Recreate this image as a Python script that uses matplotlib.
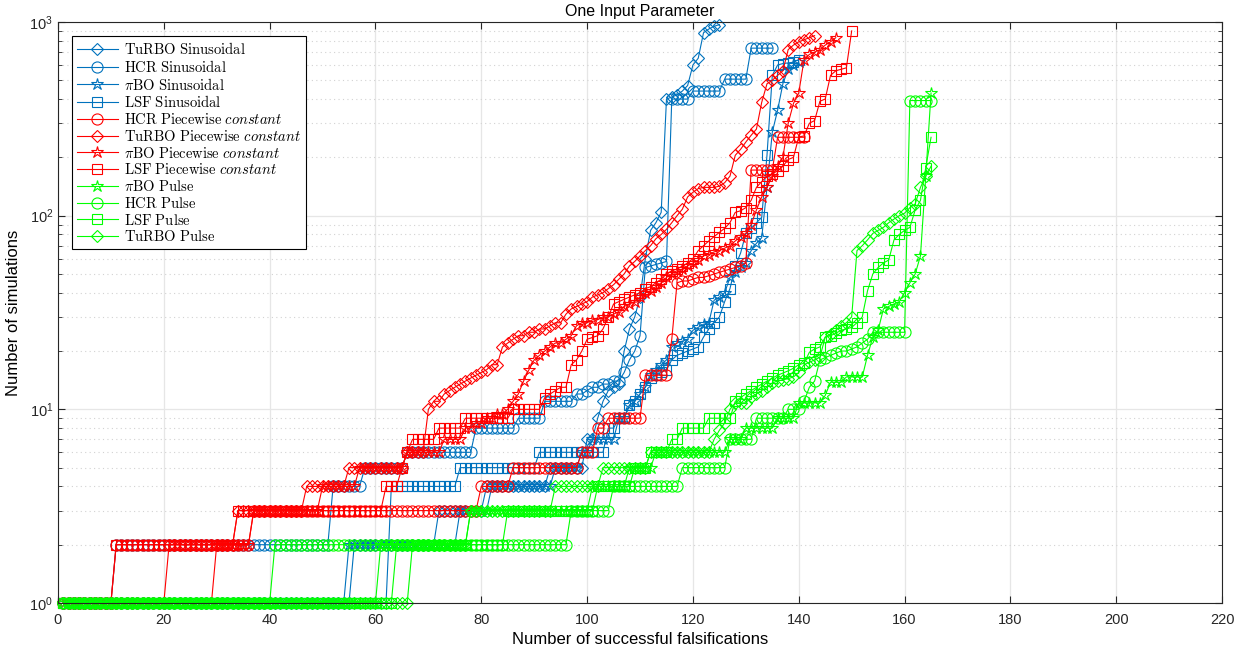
import numpy as np
import matplotlib
matplotlib.use("Agg")
import matplotlib.pyplot as plt
from matplotlib.ticker import LogLocator, NullFormatter

plt.rcParams['font.family'] = ['Liberation Sans', 'DejaVu Sans']
plt.rcParams['mathtext.fontset'] = 'cm'

# ---------------- data (run-length: values, counts) ----------------
turbo_sin_v = [1, 2, 3, 4, 5, 7, 9, 11, 12.5, 13, 13.5, 20, 26, 30, 38, 60, 84, 92, 104,
               400, 410, 420, 440, 470, 600, 650, 880, 920, 950, 970]
turbo_sin_c = [55, 16, 9, 12, 7, 2, 1] + [1] * 23

hcr_sin_v = [1, 2, 4, 5, 6, 8, 9, 11, 12, 12.5, 13, 13.5, 14, 15.5, 18, 20, 24,
             54, 55, 56, 57, 58, 400, 440, 507, 733]
hcr_sin_c = [10, 41, 6, 8, 13, 8, 5, 6, 2, 1, 2, 2, 2, 1, 1, 1, 1,
             1, 1, 1, 1, 1, 4, 6, 5, 5]

pibo_sin_v = [1, 2, 3, 4, 5, 6, 7, 9, 10.5, 11, 12, 13, 15, 16, 17, 18, 21, 22, 22.5, 23,
              25.6, 26.5, 27.5, 28, 36.6, 38, 40, 48, 51, 54, 57, 66, 72, 77, 140, 270,
              350, 480, 570, 600, 620]
pibo_sin_c = [54, 21, 6, 12, 5, 2, 5, 2] + [1] * 33

lsf_sin_v = [1, 4, 5, 6, 8, 9, 10.5, 11, 12, 13, 14.5, 15, 15.5, 16, 18, 19, 19.5, 20,
             20.5, 21, 23.6, 26, 28, 30, 36, 42, 55, 64, 81, 86, 92, 98, 206, 530, 600,
             610, 615, 620, 640]
lsf_sin_c = [62, 13, 15, 13, 2, 2] + [1] * 33

hcr_pc_v = [1, 2, 3, 4, 5, 6, 8, 9, 15, 23, 45, 46, 47, 48, 49, 50, 51, 52, 53, 54, 55,
            57, 172, 254]
hcr_pc_c = [10, 26, 43, 6, 13, 3, 2, 7, 5, 1, 1, 2, 1, 2, 1, 1, 1, 1, 1, 1, 1, 1, 5, 6]

turbo_pc_v = [1, 2, 3, 4, 5, 6, 10, 11, 12, 12.5, 13, 13.5, 14, 14.5, 15, 15.5, 16, 17,
              21, 22, 23, 24, 25, 26, 27, 28, 31, 33, 34, 35, 36, 38, 39, 40, 42, 44, 47,
              50, 55, 58, 62, 66, 70, 76, 80, 85, 92, 100, 108, 125, 132, 138, 140, 142,
              148, 160, 205, 220, 240, 260, 280, 385, 480, 500, 530, 560, 720, 760, 790,
              810, 830, 850]
turbo_pc_c = ([20, 13, 13, 8, 11, 4, 1, 2, 1, 1, 1, 1, 1, 1, 1, 1, 1, 2,
               1, 1, 1, 2, 2, 2, 1, 2] + [1] * 26 + [3] + [1] * 19)

pibo_pc_v = [1, 2, 3, 4, 5, 6, 7, 8, 8.5, 9, 9.5, 10,
             11, 12, 14, 16, 18, 19, 20, 21, 22, 22, 23, 24, 27, 28, 28, 29, 29, 30, 30,
             31, 32, 34, 35, 36, 38, 40, 41, 43, 45, 48, 50, 52, 53, 55, 57, 59, 62, 63,
             65, 66, 68, 70, 74, 78, 81, 90, 107, 125, 140, 160, 180, 200, 300, 380, 430,
             640, 680, 700, 720, 760, 790, 830]
pibo_pc_c = [29, 7, 13, 7, 9, 7, 4, 2, 2, 2, 2, 1] + [1] * 62

lsf_pc_v = [1, 2, 3, 4, 5, 6, 7, 8, 9, 10,
            11.5, 12, 12.5, 13, 13, 17, 18, 20, 23, 23.5, 24, 26, 30, 35, 36, 37, 38, 39,
            40, 42, 43, 45, 47, 50, 52, 53, 55, 57, 60, 66, 70, 74, 78, 82, 86, 92, 104,
            106, 110, 120, 140, 150, 160, 165, 170, 180, 195, 200, 255, 258, 300, 310,
            390, 400, 530, 560, 570, 580, 900]
lsf_pc_c = [10, 23, 28, 3, 1, 1, 5, 5, 9, 6] + [1] * 59

pibo_p_v = [1, 2, 3, 4, 5, 6, 7, 8, 9, 10.8, 11.8, 13.8, 14.7,
            19, 23.6, 25.6, 33, 34, 35, 36, 40, 45, 50, 62, 160, 430]
pibo_p_c = [60, 17, 23, 7, 5, 14, 3, 6, 4, 5, 1, 3, 4] + [1] * 13

hcr_p_v = [1, 2, 3, 4, 5, 7, 9, 10, 11, 13, 14, 18, 18.5, 19, 19.5, 20, 20, 20.5, 21, 22,
           23, 25, 393]
hcr_p_c = [40, 56, 8, 13, 9, 5, 6, 3] + [1] * 13 + [7, 5]

lsf_p_v = [1, 2, 3, 4, 5, 6, 7, 8, 9,
           11, 11.5, 12, 12.5, 13, 13.5, 14, 14.5, 15, 15.4, 15.8, 16.3, 17, 17.3, 19.7,
           20.5, 21, 23.6, 24, 24.7, 25.6, 26, 26.5, 28, 30, 41, 50, 54, 57, 59, 75, 80,
           84, 87, 107, 120, 177, 254]
lsf_p_c = [63, 21, 17, 7, 3, 4, 2, 5, 5] + [1] * 38

turbo_p_v = [1, 2, 3, 4, 5, 6, 7, 7.8, 8.5, 10, 10.8,
             11.6, 12, 12.5, 13, 13.7, 14, 14.2, 14.4, 14.7, 15.5, 17, 17.5, 18, 18.6,
             23.6, 24.5, 25.6, 27, 28, 30, 66, 70, 75, 81, 84, 87, 92, 96, 100, 103, 110,
             115, 140, 160, 180]
turbo_p_c = [66, 11, 16, 9, 9, 12, 1, 1, 1, 1, 3] + [1] * 35

labels = [r'$\mathrm{TuRBO\ Sinusoidal}$', r'$\mathrm{HCR\ Sinusoidal}$',
          r'$\pi\mathrm{BO\ Sinusoidal}$', r'$\mathrm{LSF\ Sinusoidal}$',
          r'$\mathrm{HCR\ Piecewise}\ constant$', r'$\mathrm{TuRBO\ Piecewise}\ constant$',
          r'$\pi\mathrm{BO\ Piecewise}\ constant$', r'$\mathrm{LSF\ Piecewise}\ constant$',
          r'$\pi\mathrm{BO\ Pulse}$', r'$\mathrm{HCR\ Pulse}$',
          r'$\mathrm{LSF\ Pulse}$', r'$\mathrm{TuRBO\ Pulse}$']

series = [(turbo_sin_v, turbo_sin_c), (hcr_sin_v, hcr_sin_c), (pibo_sin_v, pibo_sin_c),
          (lsf_sin_v, lsf_sin_c), (hcr_pc_v, hcr_pc_c), (turbo_pc_v, turbo_pc_c),
          (pibo_pc_v, pibo_pc_c), (lsf_pc_v, lsf_pc_c), (pibo_p_v, pibo_p_c),
          (hcr_p_v, hcr_p_c), (lsf_p_v, lsf_p_c), (turbo_p_v, turbo_p_c)]

BLUE, RED, GREEN = '#0072BD', '#FF0000', '#00FF00'
colors = [BLUE] * 4 + [RED] * 4 + [GREEN] * 4
markers = ['D', 'o', '*', 's', 'o', 'D', '*', 's', '*', 'o', 's', 'D']
msizes = {'D': 6.5, 'o': 8, '*': 9, 's': 7.5}

fig = plt.figure(figsize=(12.47, 6.57), dpi=100)
ax = fig.add_axes([0.0465, 0.0822, 0.9335, 0.8843])

for (v, c), lab, col, mk in zip(series, labels, colors, markers):
    y = np.repeat(np.array(v, dtype=float), c)
    x = np.arange(1, len(y) + 1)
    ax.plot(x, y, color=col, marker=mk, ms=msizes[mk], mfc='none', mec=col,
            mew=0.8, lw=0.8, label=lab, clip_on=False)

ax.set_yscale('log')
ax.set_xlim(0, 220)
ax.set_ylim(1, 1000)
ax.set_xticks(np.arange(0, 221, 20))
ax.yaxis.set_major_locator(LogLocator(base=10, numticks=10))
ax.yaxis.set_minor_locator(LogLocator(base=10, subs=np.arange(2, 10), numticks=20))
ax.yaxis.set_minor_formatter(NullFormatter())

ax.grid(True, which='major', color='#e6e6e6', lw=0.9, ls='-')
ax.grid(True, which='minor', axis='y', color='#d2d2d2', lw=0.8, ls=(0, (1, 3)))
ax.set_axisbelow(True)

ax.tick_params(which='both', direction='in', top=True, right=True, labelsize=10.5,
               colors='#262626')
ax.tick_params(which='major', length=5)
ax.tick_params(which='minor', length=3)
ax.tick_params(axis='x', pad=7)
for s in ax.spines.values():
    s.set_color('#262626')
    s.set_linewidth(0.8)

ax.set_title('One Input Parameter', fontsize=11.5, pad=4)
ax.set_xlabel('Number of successful falsifications', fontsize=12, labelpad=4)
ax.set_ylabel('Number of simulations', fontsize=12, labelpad=6)

leg = ax.legend(loc='upper left', bbox_to_anchor=(0.0095, 0.981), fontsize=10.5,
                frameon=True, fancybox=False, edgecolor='black', framealpha=1,
                labelspacing=0.12, handlelength=2.8, handletextpad=0.4,
                borderpad=0.35, borderaxespad=0.2)
leg.get_frame().set_linewidth(0.8)

fig.savefig('out.png', dpi=100)
